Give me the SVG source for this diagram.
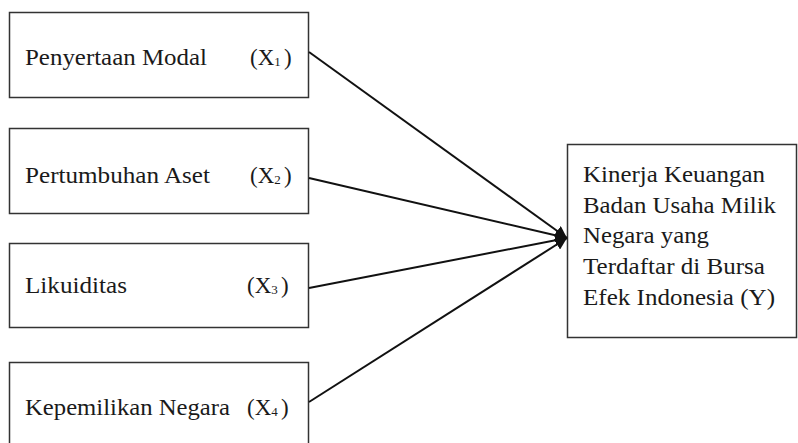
<svg xmlns="http://www.w3.org/2000/svg" width="798" height="443" viewBox="0 0 798 443">
<style>
.box{fill:#fff;stroke:#333;stroke-width:1.5}
.t{font-family:"Liberation Serif","Times New Roman",serif;font-size:23px;fill:#1a1a1a}
.s{font-size:13px}
.c{stroke:#111;stroke-width:2;fill:none}
</style>
<defs>
<marker id="ah" viewBox="0 0 10 10" refX="10" refY="5" markerWidth="6" markerHeight="6" orient="auto" markerUnits="strokeWidth">
<path d="M0,0 L10,5 L0,10 z" fill="#111"/>
</marker>
</defs>
<rect width="798" height="443" fill="#fff"/>
<g id="x1">
<rect class="box" x="9.5" y="12.5" width="299" height="85"/>
<text class="t" x="25" y="65" textLength="182" lengthAdjust="spacingAndGlyphs">Penyertaan Modal</text>
<text class="t" x="250" y="65">(X<tspan class="s" dy="1">1</tspan><tspan x="284" dy="-1">)</tspan></text>
</g>
<g id="x2">
<rect class="box" x="9.5" y="128.5" width="299" height="85"/>
<text class="t" x="25" y="183" textLength="185" lengthAdjust="spacingAndGlyphs">Pertumbuhan Aset</text>
<text class="t" x="250" y="183">(X<tspan class="s" dy="1">2</tspan><tspan x="284" dy="-1">)</tspan></text>
</g>
<g id="x3">
<rect class="box" x="9.5" y="243.5" width="299" height="84"/>
<text class="t" x="25" y="293" textLength="102" lengthAdjust="spacingAndGlyphs">Likuiditas</text>
<text class="t" x="247" y="293">(X<tspan class="s" dy="1">3</tspan><tspan x="281" dy="-1">)</tspan></text>
</g>
<g id="x4">
<rect class="box" x="9.5" y="362.5" width="299" height="100"/>
<text class="t" x="25" y="415" textLength="205" lengthAdjust="spacingAndGlyphs">Kepemilikan Negara</text>
<text class="t" x="247" y="415">(X<tspan class="s" dy="1">4</tspan><tspan x="281" dy="-1">)</tspan></text>
</g>
<g id="y">
<rect class="box" x="567.5" y="144.5" width="229" height="193"/>
<text class="t" x="583" y="182" textLength="182" lengthAdjust="spacingAndGlyphs">Kinerja Keuangan</text>
<text class="t" x="583" y="213" textLength="193" lengthAdjust="spacingAndGlyphs">Badan Usaha Milik</text>
<text class="t" x="583" y="243" textLength="126" lengthAdjust="spacingAndGlyphs">Negara yang</text>
<text class="t" x="583" y="274" textLength="182" lengthAdjust="spacingAndGlyphs">Terdaftar di Bursa</text>
<text class="t" x="583" y="305" textLength="192" lengthAdjust="spacingAndGlyphs">Efek Indonesia (Y)</text>
</g>
<g id="connectors">
<line class="c" x1="309" y1="52" x2="567" y2="238" marker-end="url(#ah)"/>
<line class="c" x1="309" y1="178" x2="567" y2="238" marker-end="url(#ah)"/>
<line class="c" x1="309" y1="288" x2="567" y2="238" marker-end="url(#ah)"/>
<line class="c" x1="309" y1="402" x2="567" y2="238" marker-end="url(#ah)"/>
</g>
</svg>
